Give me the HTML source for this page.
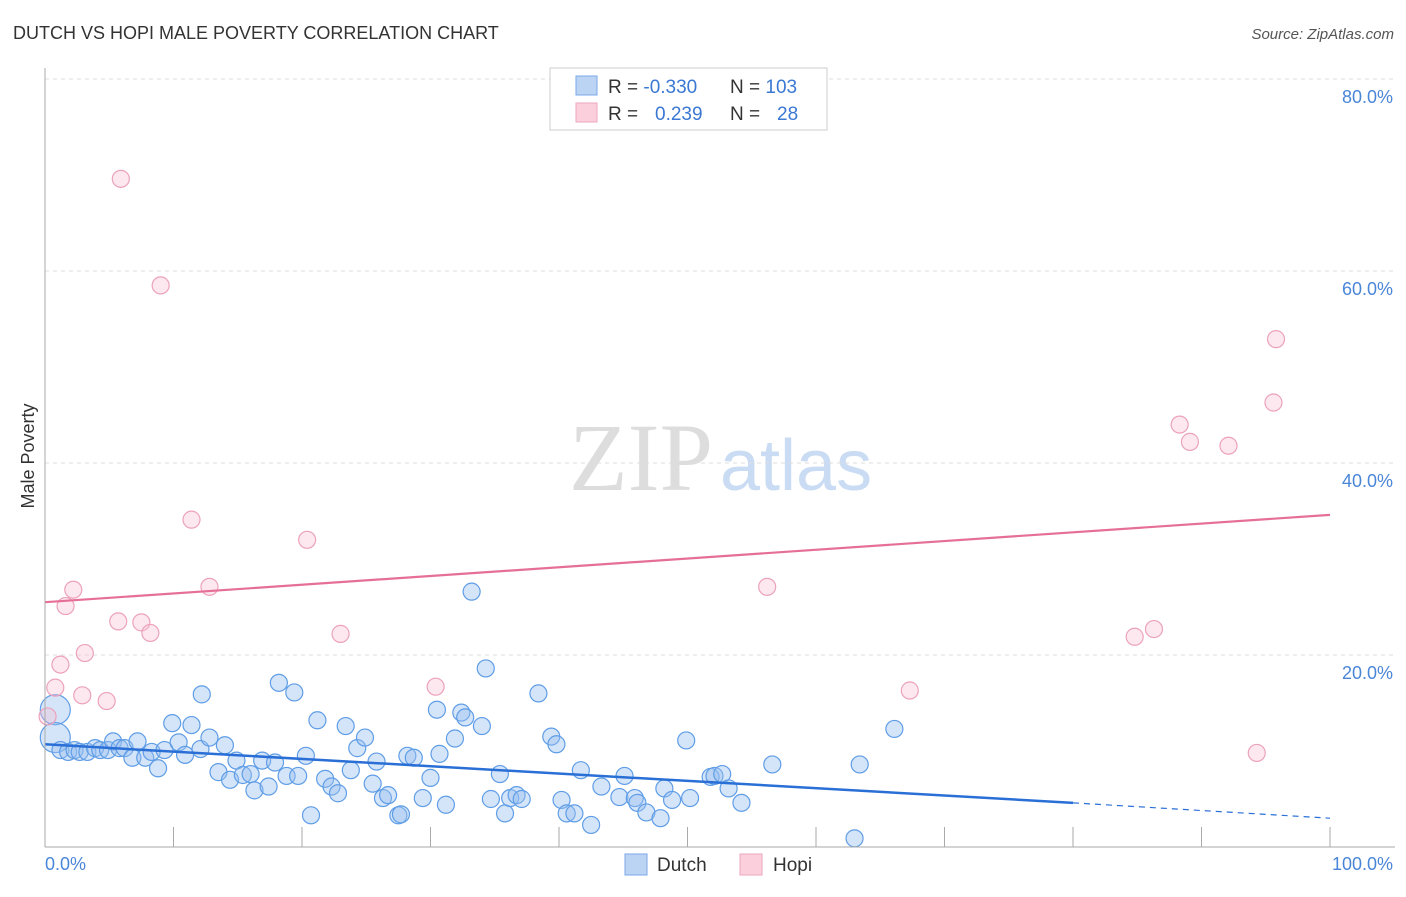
<!DOCTYPE html>
<html><head><meta charset="utf-8"><style>
body{margin:0;background:#fff;font-family:"Liberation Sans",sans-serif}
</style></head><body>
<svg id="c" width="1406" height="892" xmlns="http://www.w3.org/2000/svg" font-family="Liberation Sans, sans-serif">
<text x="13" y="39" font-size="18" fill="#333">DUTCH VS HOPI MALE POVERTY CORRELATION CHART</text>
<text x="1394" y="39" font-size="15" fill="#555" text-anchor="end" font-style="italic">Source: ZipAtlas.com</text>
<text x="713" y="490" font-size="96" fill="#ddd" text-anchor="end" font-family="Liberation Serif, serif">ZIP</text>
<text x="720" y="490" font-size="72" fill="#c9dcf3">atlas</text>
<text x="34" y="456" font-size="18" fill="#333" text-anchor="middle" transform="rotate(-90 34 456)">Male Poverty</text>
<g id="grid"></g><g id="pts"></g><g id="lines"></g>
<line x1="45" y1="68" x2="45" y2="847" stroke="#aaa"/>
<line x1="45" y1="847" x2="1395" y2="847" stroke="#aaa"/>
<text x="45" y="870" font-size="18" fill="#4a86d8">0.0%</text>
<text x="1393" y="870" font-size="18" fill="#4a86d8" text-anchor="end">100.0%</text>
<g>
<rect x="550" y="68" width="277" height="62" fill="#fff" stroke="#ccc"/>
<rect x="576" y="76" width="21" height="19" fill="#bcd4f4" stroke="#7aa9e8"/>
<rect x="576" y="103" width="21" height="19" fill="#fbd0dc" stroke="#eea6bd"/>
<text x="608" y="93" font-size="19" fill="#333">R = <tspan fill="#3a78d4">-0.330</tspan><tspan x="730">N = </tspan><tspan fill="#3a78d4">103</tspan></text>
<text x="608" y="120" font-size="19" fill="#333">R = <tspan x="655" fill="#3a78d4">0.239</tspan><tspan x="730">N = </tspan><tspan x="777" fill="#3a78d4">28</tspan></text>
</g>
<g><rect x="625" y="854" width="22" height="21" fill="#bcd4f4" stroke="#7aa9e8"/><text x="657" y="871" font-size="19" fill="#333">Dutch</text></g>
<g><rect x="740" y="854" width="22" height="21" fill="#fbd0dc" stroke="#eea6bd"/><text x="773" y="871" font-size="19" fill="#333">Hopi</text></g>
</svg>
<script>
const yTicks=[20,40,60,80];
const xTicks=[0,10,20,30,40,50,60,70,80,90,100];
const dutchX=[0.8,0.8,1.2,1.8,2.3,2.7,3.3,3.9,4.3,4.9,5.3,5.8,6.2,6.8,7.2,7.8,8.3,8.8,9.3,9.9,10.4,10.9,11.4,12.1,12.2,12.8,13.5,14.0,14.4,14.9,15.4,16.0,16.3,16.9,17.4,17.9,18.2,18.8,19.4,19.7,20.3,20.7,21.2,21.8,22.3,22.8,23.4,23.8,24.3,24.9,25.5,25.8,26.3,26.7,27.5,27.7,28.2,28.7,29.4,30.0,30.5,30.7,31.2,31.9,32.4,32.7,33.2,34.0,34.3,34.7,35.4,35.8,36.2,36.7,37.1,38.4,39.4,39.8,40.2,40.6,41.2,41.7,42.5,43.3,44.7,45.1,45.9,46.1,46.8,47.9,48.2,48.8,49.9,50.2,51.8,52.1,52.7,53.2,54.2,56.6,63.0,63.4,66.1];
const dutchY=[14.3,11.4,10.1,9.9,10.1,9.9,9.9,10.3,10.1,10.1,11.0,10.3,10.3,9.3,11.0,9.3,9.9,8.2,10.1,12.9,10.9,9.6,12.7,10.2,15.9,11.4,7.8,10.6,7.0,9.0,7.5,7.6,5.9,9.0,6.3,8.8,17.1,7.4,16.1,7.4,9.5,3.3,13.2,7.1,6.3,5.6,12.6,8.0,10.3,11.4,6.6,8.9,5.1,5.4,3.3,3.4,9.5,9.3,5.1,7.2,14.3,9.7,4.4,11.3,14.0,13.5,26.6,12.6,18.6,5.0,7.6,3.5,5.1,5.4,5.0,16.0,11.5,10.7,4.9,3.5,3.5,8.0,2.3,6.3,5.2,7.4,5.1,4.6,3.6,3.0,6.1,4.9,11.1,5.1,7.3,7.4,7.6,6.1,4.6,8.6,0.9,8.6,12.3];
const hopiX=[5.9,9.0,11.4,20.4,2.2,1.6,12.8,5.7,7.5,8.2,23.0,3.1,1.2,0.8,2.9,4.8,0.2,30.4,56.2,67.3,84.8,86.3,88.3,89.1,92.1,95.6,95.8,94.3];
const hopiY=[69.6,58.5,34.1,32.0,26.8,25.1,27.1,23.5,23.4,22.3,22.2,20.2,19.0,16.6,15.8,15.2,13.6,16.7,27.1,16.3,21.9,22.7,44.0,42.2,41.8,46.3,52.9,9.8];
const dutchTrend=[10.7,4.6,3.0]; // at x=0, 80, 100
const hopiTrend=[25.5,34.6]; // at x=0, 100
const NS='http://www.w3.org/2000/svg';
const sx=v=>45+v*12.85, sy=v=>847-v*9.6;
function mk(t,a,p){const e=document.createElementNS(NS,t);for(const k in a)e.setAttribute(k,a[k]);document.getElementById(p).appendChild(e);return e;}
yTicks.forEach(t=>{
 const l=mk('line',{x1:45,x2:1395,y1:sy(t),y2:sy(t),stroke:'#ddd','stroke-dasharray':'4 4'},'grid');
 
 
 const tx=mk('text',{x:1393,y:sy(t)+24,'font-size':18,fill:'#4a86d8','text-anchor':'end'},'grid');
 tx.textContent=t.toFixed(1)+'%';
 
 
});
xTicks.forEach(t=>{
 const l=mk('line',{x1:sx(t),x2:sx(t),y1:827,y2:847,stroke:'#aaa'},'grid');
 
 
});
dutchX.forEach((x,i)=>{
 const big=i<2;
 const c=mk('circle',{cx:sx(x),cy:sy(dutchY[i]),r:big?15:8.5,fill:'rgba(150,190,240,0.4)',stroke:'#5f9de6','stroke-width':1.2},'pts');
 
 
});
hopiX.forEach((x,i)=>{
 const c=mk('circle',{cx:sx(x),cy:sy(hopiY[i]),r:8.5,fill:'rgba(248,190,208,0.35)',stroke:'#eca2ba','stroke-width':1.2},'pts');
 
 
});
let l=mk('line',{x1:sx(0),y1:sy(dutchTrend[0]),x2:sx(80),y2:sy(dutchTrend[1]),stroke:'#2a6fd6','stroke-width':2.5},'lines');


l=mk('line',{x1:sx(80),y1:sy(dutchTrend[1]),x2:sx(100),y2:sy(dutchTrend[2]),stroke:'#2a6fd6','stroke-width':1.2,'stroke-dasharray':'6 5'},'lines');


l=mk('line',{x1:sx(0),y1:sy(hopiTrend[0]),x2:sx(100),y2:sy(hopiTrend[1]),stroke:'#e66f98','stroke-width':2.2},'lines');


</script>
</body></html>
